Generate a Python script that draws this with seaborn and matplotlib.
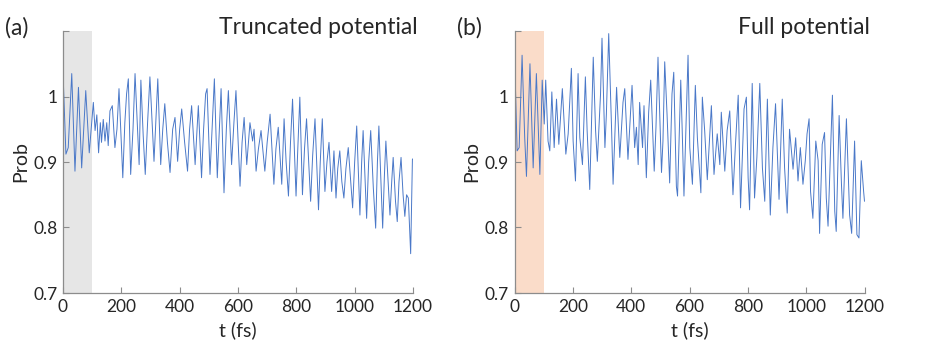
import seaborn as sns
import pandas as pd
import matplotlib.pyplot as plt

# values (peaks/troughs of the traces)
t_trunc = [0, 10, 18, 30, 41, 53, 64, 78, 90, 104, 110, 116, 122, 128, 132, 138, 144, 150, 155,
           161, 169, 178, 185, 192, 205, 212, 218, 224, 232, 240, 247, 261, 267, 275, 282, 290,
           298, 312, 318, 325, 335, 342, 349, 358, 367, 376, 384, 393, 400, 407, 417, 427, 434,
           441, 453, 464, 475, 482, 489, 494, 504, 512, 519, 529, 536, 542, 552, 560, 567, 578,
           586, 593, 607, 614, 621, 630, 641, 650, 655, 662, 670, 679, 692, 700, 710, 723, 730,
           738, 750, 758, 765, 773, 780, 787, 799, 805, 812, 821, 828, 835, 849, 856, 864, 876,
           882, 889, 898, 905, 912, 921, 929, 936, 942, 949, 956, 963, 970, 978, 993, 1000, 1007,
           1018, 1024, 1029, 1041, 1048, 1055, 1064, 1072, 1078, 1083, 1096, 1102, 1107, 1121,
           1127, 1132, 1140, 1146, 1152, 1159, 1166, 1172, 1178, 1184, 1192, 1198, 1200]
p_trunc = [1.037, 0.912, 0.922, 1.035, 0.886, 1.014, 0.891, 1.009, 0.914, 0.991, 0.948, 0.972,
           0.914, 0.960, 0.930, 0.965, 0.932, 0.960, 0.925, 0.978, 0.986, 0.922, 0.950, 1.012,
           0.876, 0.960, 1.004, 1.027, 0.881, 0.950, 1.035, 0.896, 1.025, 0.940, 0.881, 0.960,
           1.030, 0.901, 0.960, 1.027, 0.896, 0.950, 0.989, 0.930, 0.884, 0.950, 0.968, 0.901,
           0.950, 0.981, 0.930, 0.886, 0.950, 0.986, 0.896, 0.986, 0.876, 0.950, 1.004, 1.012,
           0.881, 0.960, 1.027, 0.876, 0.950, 1.012, 0.853, 0.950, 1.009, 0.896, 0.960, 1.009,
           0.863, 0.930, 0.968, 0.896, 0.960, 0.932, 0.950, 0.886, 0.920, 0.948, 0.886, 0.930,
           0.973, 0.866, 0.920, 0.953, 0.866, 0.966, 0.900, 0.848, 0.930, 0.996, 0.848, 0.920,
           0.999, 0.850, 0.920, 0.966, 0.840, 0.910, 0.966, 0.827, 0.900, 0.966, 0.855, 0.900,
           0.930, 0.855, 0.917, 0.845, 0.890, 0.917, 0.870, 0.845, 0.890, 0.922, 0.830, 0.900,
           0.955, 0.819, 0.900, 0.948, 0.814, 0.900, 0.948, 0.860, 0.799, 0.900, 0.955, 0.799,
           0.880, 0.932, 0.819, 0.870, 0.907, 0.840, 0.809, 0.870, 0.907, 0.850, 0.817, 0.850,
           0.845, 0.760, 0.904, 0.905]

t_full = [0, 9, 16, 26, 35, 41, 53, 64, 75, 87, 95, 102, 107, 115, 121, 128, 136, 144, 152, 164,
          176, 184, 195, 201, 209, 218, 224, 233, 243, 249, 258, 270, 278, 284, 295, 300, 310,
          315, 323, 333, 338, 350, 361, 372, 378, 389, 399, 403, 412, 418, 424, 429, 439, 444,
          452, 460, 467, 479, 485, 492, 504, 509, 515, 523, 532, 540, 546, 555, 559, 570, 575,
          581, 595, 601, 610, 620, 627, 639, 644, 652, 661, 675, 684, 695, 704, 709, 721, 729,
          738, 749, 757, 767, 775, 787, 795, 801, 806, 815, 823, 831, 841, 850, 858, 867, 877,
          886, 895, 907, 918, 926, 935, 943, 955, 964, 972, 980, 989, 997, 1003, 1010, 1015,
          1023, 1033, 1041, 1046, 1055, 1063, 1069, 1075, 1090, 1098, 1103, 1113, 1121, 1126,
          1138, 1149, 1156, 1166, 1174, 1181, 1189, 1197, 1200]
p_full = [1.068, 0.917, 0.922, 1.063, 0.937, 0.878, 1.050, 0.891, 1.035, 0.881, 1.025, 0.958,
          1.025, 0.932, 0.917, 1.007, 0.922, 0.996, 0.927, 1.012, 0.912, 0.943, 1.043, 0.932,
          0.871, 1.035, 0.937, 0.896, 1.030, 0.948, 0.858, 1.060, 0.948, 0.901, 1.004, 1.089,
          0.922, 0.973, 1.096, 0.948, 0.866, 1.014, 0.907, 0.991, 1.012, 0.904, 0.986, 1.017,
          0.922, 0.953, 0.896, 0.991, 0.922, 0.986, 0.876, 0.976, 1.025, 0.886, 0.953, 1.060,
          0.884, 0.932, 1.053, 0.973, 0.868, 1.004, 1.037, 0.863, 0.848, 1.025, 0.948, 0.848,
          1.063, 0.922, 0.866, 1.017, 0.937, 0.853, 0.999, 0.948, 0.873, 0.986, 0.881, 0.943,
          0.896, 0.976, 0.886, 0.948, 0.978, 0.850, 0.922, 1.002, 0.830, 0.981, 0.999, 0.876,
          0.827, 1.020, 0.845, 0.907, 1.020, 0.891, 0.840, 0.996, 0.819, 0.922, 0.989, 0.843,
          0.996, 0.891, 0.822, 0.950, 0.889, 0.937, 0.871, 0.922, 0.866, 0.902, 0.943, 0.966,
          0.855, 0.814, 0.932, 0.902, 0.791, 0.927, 0.945, 0.845, 0.802, 1.002, 0.825, 0.794,
          0.971, 0.866, 0.814, 0.966, 0.819, 0.791, 0.932, 0.789, 0.784, 0.902, 0.855, 0.840]

panel_labels = ["(a)", "(b)"]
titles = ["Truncated potential", "Full potential"]
x_ticks = [0, 200, 400, 600, 800, 1000, 1200]
y_ticks = [0.7, 0.8, 0.9, 1.0, 1.1]
y_ticklabels = ["0.7", "0.8", "0.9", "1", ""]

sns.set_style("ticks")
plt.rcParams["font.family"] = ["Lato", "DejaVu Sans"]

W, H = 942, 349
fig = plt.figure(figsize=(W / 100, H / 100), dpi=100)

line_col = "#4a78c8"
shades = ["#e6e6e6", "#fadcc9"]
lefts = [63, 514.5]
series = [(t_trunc, p_trunc), (t_full, p_full)]

for i in range(2):
    ax = fig.add_axes([lefts[i] / W, 1 - 293 / H, 350 / W, 262 / H])
    df = pd.DataFrame({"t": series[i][0], "Prob": series[i][1]})
    ax.axvspan(0, 100, color=shades[i], lw=0, zorder=0)
    sns.lineplot(data=df, x="t", y="Prob", ax=ax, color=line_col, linewidth=0.7, zorder=2)
    ax.set_xlim(0, 1200)
    ax.set_ylim(0.7, 1.1)
    ax.set_xticks(x_ticks)
    ax.set_yticks(y_ticks)
    ax.set_yticklabels(y_ticklabels)
    sns.despine(ax=ax)
    for s in ["left", "bottom"]:
        ax.spines[s].set_color("#8c8c8c")
        ax.spines[s].set_linewidth(0.9)
    ax.tick_params(direction="in", length=4, width=0.8, color="#8c8c8c",
                   labelsize=12.5, labelcolor="#262626", pad=4)
    ax.set_xlabel("t (fs)", fontsize=14, color="#262626", labelpad=5)
    ax.set_ylabel("Prob", fontsize=14, color="#262626", labelpad=3)
    ax.patch.set_alpha(0)

    fig.text((5 + lefts[i] - 63) / W, 1 - 28 / H, panel_labels[i], fontsize=16.5,
             va="center", ha="left")
    fig.text((lefts[i] + 355) / W, 1 - 27 / H, titles[i], fontsize=16.5,
             va="center", ha="right")

fig.savefig("out.png", dpi=100)
